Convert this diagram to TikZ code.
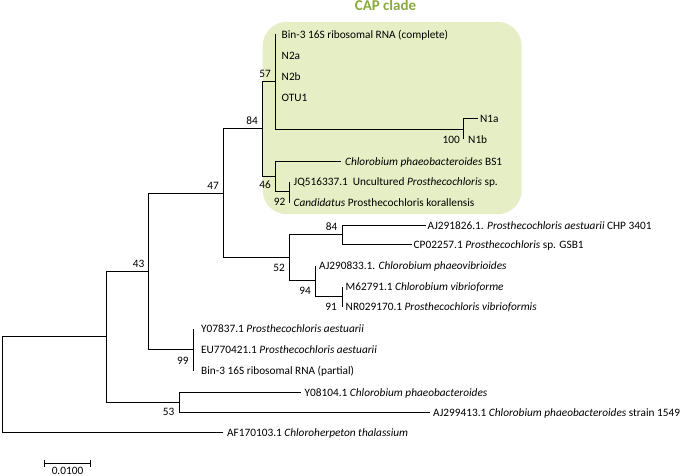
\documentclass[tikz,border=0pt]{standalone}
\usepackage{fontspec}
\setmainfont{Carlito}
\usetikzlibrary{calc}
\definecolor{capfill}{RGB}{229,238,196}
\definecolor{captitlecol}{RGB}{138,170,58}
\newcommand\treefont{\fontsize{11.3}{13.5}\selectfont}
\begin{document}
\begin{tikzpicture}[x=1pt,y=-1pt,
  br/.style={draw=black, line width=1pt},
  leaf/.style={anchor=base west, inner sep=0pt, font=\treefont},
  bsa/.style={anchor=east, inner sep=0pt, font=\treefont},
]
\useasboundingbox (0,0) rectangle (685,476);
% clade box and title
\node (capbox) [fill=capfill, rounded corners=24pt, minimum width=259pt, minimum height=192.3pt, inner sep=0pt, anchor=north west] at (262.5,21.7) {};
\node (captitle) [font=\fontsize{15}{18}\selectfont\bfseries, text=captitlecol, anchor=base, inner sep=0pt] at (385.5,10.6) {CAP clade};
% internal nodes
\coordinate (root) at (2.5,384.5);
\coordinate (nU) at (106.5,336.5);
\coordinate (n43) at (148.5,271.5);
\coordinate (n47) at (223.5,193.5);
\coordinate (n84) at (262.5,128.5);
\coordinate (n57) at (275.5,81.5);
\coordinate (n100) at (463.5,129.5);
\coordinate (n46) at (275.5,176.5);
\coordinate (n92) at (289.5,191.5);
\coordinate (n52) at (289.5,257.5);
\coordinate (n84b) at (342.5,234.5);
\coordinate (n94) at (315.5,280.5);
\coordinate (n91) at (342.5,296.5);
\coordinate (n99) at (193.5,349.5);
\coordinate (n53) at (179.5,402.5);
% leaf branch ends
\coordinate (l1) at (275.5,34.5);
\coordinate (l2) at (275.5,55.5);
\coordinate (l3) at (275.5,76.5);
\coordinate (l4) at (275.5,97.5);
\coordinate (l5) at (477.5,118.5);
\coordinate (l6) at (463.5,139.5);
\coordinate (l7) at (340.5,161.5);
\coordinate (l8) at (289.5,181.5);
\coordinate (l9) at (289.5,202.5);
\coordinate (l10) at (425.5,225.5);
\coordinate (l11) at (411.5,244.5);
\coordinate (l12) at (315.5,265.5);
\coordinate (l13) at (342.5,286.5);
\coordinate (l14) at (342.5,306.5);
\coordinate (l15) at (193.5,328.5);
\coordinate (l16) at (193.5,349.5);
\coordinate (l17) at (193.5,370.5);
\coordinate (l18) at (300.5,392.5);
\coordinate (l19) at (429.5,412.5);
\coordinate (l20) at (222.5,432.5);
% leaf labels
\node[leaf] (t1) at (281.5,38.3) {Bin-3 16S ribosomal RNA (complete)};
\node[leaf] (t2) at (281.5,59.3) {N2a};
\node[leaf] (t3) at (281.5,80.3) {N2b};
\node[leaf] (t4) at (281.5,101.3) {OTU1};
\node[leaf] (t5) at (479.8,122.3) {N1a};
\node[leaf] (t6) at (468,143.3) {N1b};
\node[leaf] (t7) at (345,165.3) {\textit{Chlorobium phaeobacteroides} BS1};
\node[leaf] (t8) at (293.5,185.3) {JQ516337.1\ \ Uncultured \textit{Prosthecochloris} sp.};
\node[leaf] (t9) at (293.5,206.3) {\textit{Candidatus} Prosthecochloris korallensis};
\node[leaf] (t10) at (427.5,229.3) {AJ291826.1. \textit{Prosthecochloris aestuarii} CHP 3401};
\node[leaf] (t11) at (413.5,248.3) {CP02257.1 \textit{Prosthecochloris} sp. GSB1};
\node[leaf] (t12) at (319,269.3) {AJ290833.1. \textit{Chlorobium phaeovibrioides}};
\node[leaf] (t13) at (345.5,290.3) {M62791.1 \textit{Chlorobium vibrioforme}};
\node[leaf] (t14) at (345.5,310.3) {NR029170.1 \textit{Prosthecochloris vibrioformis}};
\node[leaf] (t15) at (201,332.3) {Y07837.1 \textit{Prosthecochloris aestuarii}};
\node[leaf] (t16) at (201,353.3) {EU770421.1 \textit{Prosthecochloris aestuarii}};
\node[leaf] (t17) at (201,374.3) {Bin-3 16S ribosomal RNA (partial)};
\node[leaf] (t18) at (304.5,396.3) {Y08104.1 \textit{Chlorobium phaeobacteroides}};
\node[leaf] (t19) at (433,416.3) {AJ299413.1 \textit{Chlorobium phaeobacteroides} strain 1549};
\node[leaf] (t20) at (227,436.3) {AF170103.1 \textit{Chloroherpeton thalassium}};
% branches
\draw[br] (root) |- (nU);
\draw[br] (root) |- (l20);
\draw[br] (nU) |- (n43);
\draw[br] (nU) |- (n53);
\draw[br] (n43) |- (n47);
\draw[br] (n43) |- (n99);
\draw[br] (n47) |- (n84);
\draw[br] (n47) |- (n52);
\draw[br] (n84) |- (n57);
\draw[br] (n84) |- (n46);
\draw[br] (n57) |- (l1);
\draw[br] (n57) |- (n100);
\draw[br] (n100) |- (l5);
\draw[br] (n100) |- (l6);
\draw[br] (n46) |- (l7);
\draw[br] (n46) |- (n92);
\draw[br] (n92) |- (l8);
\draw[br] (n92) |- (l9);
\draw[br] (n52) |- (n84b);
\draw[br] (n52) |- (n94);
\draw[br] (n84b) |- (l10);
\draw[br] (n84b) |- (l11);
\draw[br] (n94) |- (l12);
\draw[br] (n94) |- (n91);
\draw[br] (n91) |- (l13);
\draw[br] (n91) |- (l14);
\draw[br] (n99) |- (l15);
\draw[br] (n99) |- (l17);
\draw[br] (n53) |- (l18);
\draw[br] (n53) |- (l19);
% bootstrap values
\node[bsa] (b84) at ($(n84)+(-4.5,-8)$) {84};
\node[bsa] (b57) at ($(n57)+(-4.5,-8)$) {57};
\node[bsa] (b47) at ($(n47)+(-4.5,-7.5)$) {47};
\node[bsa] (b43) at ($(n43)+(-4,-7.5)$) {43};
\node[bsa] (b84b) at ($(n84b)+(-5,-8)$) {84};
\node[bsa] (b100) at ($(n100)+(-3.5,10)$) {100};
\node[bsa] (b46) at ($(n46)+(-4.5,8)$) {46};
\node[bsa] (b92) at ($(n92)+(-4,10)$) {92};
\node[bsa] (b52) at ($(n52)+(-4.5,10)$) {52};
\node[bsa] (b94) at ($(n94)+(-4.5,10)$) {94};
\node[bsa] (b91) at ($(n91)+(-5.5,10)$) {91};
\node[bsa] (b99) at ($(n99)+(-4.8,11)$) {99};
\node[bsa] (b53) at ($(n53)+(-5,9.5)$) {53};
% scale bar
\coordinate (sbL) at (44.5,463.5);
\coordinate (sbR) at (90.5,463.5);
\draw[br] (sbL) -- (sbR);
\draw[br] ($(sbL)+(0,-3.5)$) -- ($(sbL)+(0,3.5)$);
\draw[br] ($(sbR)+(0,-3.5)$) -- ($(sbR)+(0,3.5)$);
\node (sblabel) [font=\treefont, anchor=base, inner sep=0pt] at (67.5,474.6) {0.0100};
\end{tikzpicture}
\end{document}
